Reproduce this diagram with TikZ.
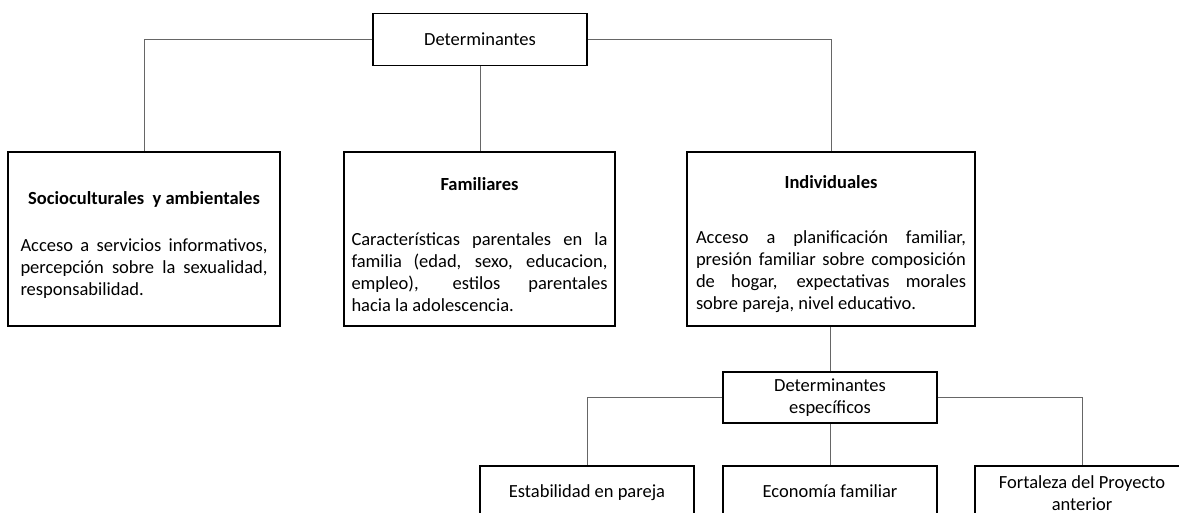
\documentclass[tikz,border=0pt]{standalone}
\usepackage{fontspec}
\setmainfont{Carlito}
\setlength{\parindent}{0pt}
\hyphenpenalty=10000
\newcommand{\titulocaja}[2]{\par\vspace*{2pt}{\centering\textbf{#1}\par}\vspace{#2}}

\begin{document}
\begin{tikzpicture}[x=1pt, y=-1pt,
    caja/.style={draw, line width=1.3pt, fill=white, inner sep=0pt, align=center, font=\fontsize{18.5}{22}\selectfont},
    grande/.style={caja, align=justify, minimum height=174pt},
    chica/.style={caja, minimum width=214pt, minimum height=54pt, text height=13pt, text depth=4pt},
    linea/.style={draw=black!60, line width=1pt}]
    \useasboundingbox (0,0) rectangle (1179,513);
    \node[caja, minimum width=214pt, minimum height=52pt] (det) at (480,39.5) {Determinantes};
    \node[grande, text width=247pt, inner xsep=12.5pt] (socio) at (144,239) {\titulocaja{Socioculturales\ \ y ambientales}{25pt}Acceso a servicios informativos,\linebreak percepción sobre la sexualidad,\linebreak responsabilidad.};
    \node[grande, text width=256pt, inner xsep=7.5pt] (fam) at (479.5,239) {\titulocaja{Familiares}{33pt}Características parentales en la\linebreak familia (edad, sexo, educacion,\linebreak empleo), estilos parentales\linebreak hacia la adolescencia.};
    \node[grande, text width=270pt, inner xsep=9pt] (ind) at (831,239) {\titulocaja{Individuales}{33pt}Acceso a planificación familiar,\linebreak presión familiar sobre composición\linebreak de hogar, expectativas morales\linebreak sobre pareja, nivel educativo.};
    \node[caja, minimum width=214pt, minimum height=51pt] (esp) at (830,397.5) {Determinantes\\específicos};
    \node[chica] (estab) at (587,493) {Estabilidad en pareja};
    \node[chica] (econ) at (830,493) {Economía familiar};
    \node[caja, minimum width=214pt, minimum height=54pt] (fort) at (1082,493) {Fortaleza del Proyecto\\anterior};
    \draw[linea] (det.west) -| (socio.north);
    \draw[linea] (det.south) -- (det.south |- fam.north);
    \draw[linea] (det.east) -| (ind.north);
    \draw[linea] (esp.north) -- (esp.north |- ind.south);
    \draw[linea] (esp.west) -| (estab.north);
    \draw[linea] (esp.south) -- (econ.north);
    \draw[linea] (esp.east) -| (fort.north); % rama derecha
\end{tikzpicture}
\end{document}
